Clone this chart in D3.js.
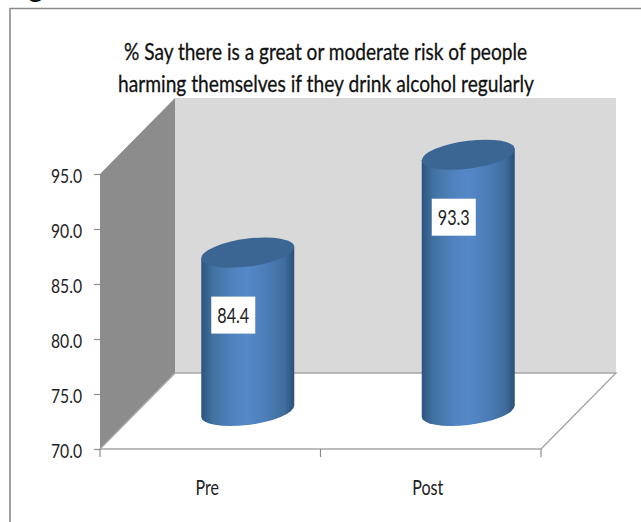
<!DOCTYPE html>
<html>
<head>
<meta charset="utf-8">
<script src="https://cdn.jsdelivr.net/npm/d3@7"></script>
<style>
html,body{margin:0;padding:0;background:#fff;}
svg{display:block;}
text{font-family:"Lato","Noto Sans",sans-serif;}
</style>
</head>
<body>
<svg id="chart" width="641" height="522"></svg>
<script>
const categories = ["Pre", "Post"];
const values = [84.4, 93.3];
const yTicks = [70, 75, 80, 85, 90, 95];
const titleLines = [
  "% Say there is a great or moderate risk of people",
  "harming themselves if they drink alcohol regularly"
];

const svg = d3.select("#chart");
const y = d3.scaleLinear().domain([70, 95]).range([449, 174]);
const x = d3.scaleBand().domain(categories).range([100, 541]);

// Depth of the 3D box: offset from the front plane to the back wall.
const depth = {dx: 75, dy: -76};
const y0 = y(70), y1 = y(95), xL = x.range()[0], xR = x.range()[1];

const defs = svg.append("defs");
const grad = defs.append("linearGradient").attr("id", "cyl").attr("x1", 0).attr("x2", 1).attr("y1", 0).attr("y2", 0);
[[0, "#2c5480"], [0.12, "#41719f"], [0.33, "#4f82bd"], [0.5, "#5488c8"], [0.72, "#4b7cb6"], [0.9, "#3f6c9c"], [1, "#2b4f78"]]
  .forEach(([o, c]) => grad.append("stop").attr("offset", o).attr("stop-color", c));

// Frame and the stub of the caption above it
svg.append("path").attr("d", "M10,522V8.5H641").attr("fill", "none").attr("stroke", "#8a8a8a").attr("stroke-width", 1.6);
svg.append("text").attr("x", 28).attr("y", -3).attr("font-size", 30).attr("fill", "#111").text("g");

// Back wall, side wall, floor
svg.append("rect").attr("x", xL + depth.dx).attr("y", y1 + depth.dy)
  .attr("width", xR - xL).attr("height", y0 - y1).attr("fill", "#d9d9d9");
svg.append("path")
  .attr("d", `M${xL},${y0}L${xL + depth.dx},${y0 + depth.dy}V${y1 + depth.dy}L${xL},${y1}Z`)
  .attr("fill", "#8c8c8c");
svg.append("path")
  .attr("d", `M${xL},${y0}L${xL + depth.dx},${y0 + depth.dy}H${xR + depth.dx}L${xR},${y0}Z`)
  .attr("fill", "#fff").attr("stroke", "#a6a6a6").attr("stroke-width", 1.4);

// Axes
const axisY = svg.append("g").attr("transform", `translate(${xL},0)`)
  .call(d3.axisLeft(y).tickValues(yTicks).tickFormat(d3.format(".1f")).tickSize(6).tickPadding(12));
axisY.select(".domain").remove();
axisY.selectAll("line").attr("stroke", "#8c8c8c").attr("stroke-width", 1.2);
axisY.selectAll("text").attr("font-size", 20).attr("fill", "#222")
  .attr("y", 2).attr("textLength", 31).attr("lengthAdjust", "spacingAndGlyphs");

const axisX = svg.append("g").attr("transform", `translate(0,${y0})`);
axisX.selectAll("line").data(d3.range(categories.length + 1)).join("line")
  .attr("x1", i => xL + i * x.step()).attr("x2", i => xL + i * x.step())
  .attr("y1", 0).attr("y2", 8).attr("stroke", "#8c8c8c").attr("stroke-width", 1.2);
axisX.selectAll("text").data(categories).join("text")
  .attr("x", d => x(d) + x.bandwidth() / 2 - 3).attr("y", 46).attr("text-anchor", "middle")
  .attr("font-size", 21).attr("fill", "#222")
  .attr("textLength", d => d.length * 7.8).attr("lengthAdjust", "spacingAndGlyphs").text(d => d);

// Cylinders, sheared so the elliptical caps tilt upward to the right
const rx = 46.5, ry = 14, shear = -0.12;
const bars = svg.selectAll("g.bar").data(categories).join("g").attr("class", "bar")
  .attr("transform", d => `matrix(1,${shear},0,1,${x(d) + x.bandwidth() / 2 + depth.dx / 2},0)`);
const base = y0 + depth.dy / 2;
bars.append("path")
  .attr("d", (d, i) => {
    const top = y(values[i]) + depth.dy / 2;
    return `M${-rx},${top}V${base}A${rx},${ry} 0 0 0 ${rx},${base}V${top}Z`;
  })
  .attr("fill", "url(#cyl)");
bars.append("ellipse")
  .attr("cy", (d, i) => y(values[i]) + depth.dy / 2)
  .attr("rx", rx).attr("ry", ry).attr("fill", "#3b6593");

// Value labels on white plates
const labels = svg.selectAll("g.val").data(categories).join("g").attr("class", "val")
  .attr("transform", (d, i) => `translate(${x(d) + x.bandwidth() / 2 + depth.dx / 2 - 14.5},${y(values[i]) + depth.dy / 2 + 62.5})`);
labels.append("rect").attr("x", -22).attr("y", -18.5).attr("width", 44).attr("height", 37).attr("fill", "#fff");
labels.append("text").attr("text-anchor", "middle").attr("dy", "0.36em").attr("font-size", 21).attr("fill", "#222")
  .attr("textLength", 32).attr("lengthAdjust", "spacingAndGlyphs")
  .text((d, i) => values[i].toFixed(1));

// Title
const titleWidths = [403, 416];
svg.append("g").selectAll("text").data(titleLines).join("text")
  .attr("x", (d, i) => i ? 326 : 325.5).attr("y", (d, i) => 60 + i * 32).attr("text-anchor", "middle")
  .attr("font-size", 24).attr("fill", "#111").attr("stroke", "#111").attr("stroke-width", 0.3)
  .attr("textLength", (d, i) => titleWidths[i]).attr("lengthAdjust", "spacingAndGlyphs").text(d => d);
</script>
</body>
</html>
